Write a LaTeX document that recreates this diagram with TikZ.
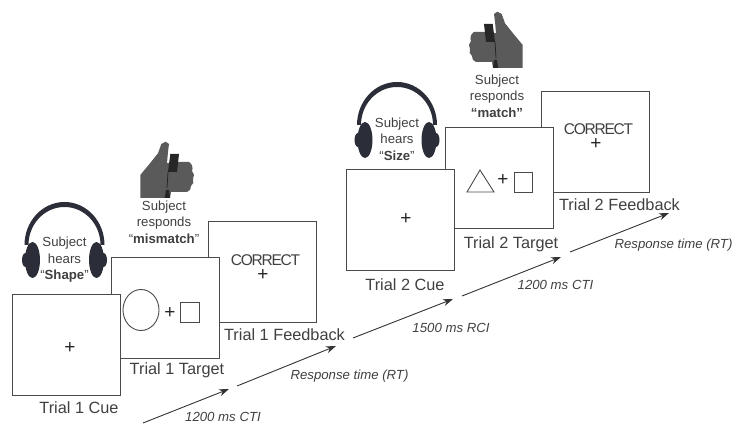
\documentclass[tikz,border=0pt]{standalone}
\usepackage{fontspec}
\usepackage{tikz}
\usepackage{xcolor}
\usetikzlibrary{shapes.geometric,arrows.meta}
\setmainfont{Liberation Sans}
\definecolor{inkgray}{HTML}{404040}
\definecolor{framegray}{HTML}{4A4A4A}
\definecolor{padnavy}{HTML}{2B2E38}
\definecolor{handgray}{HTML}{5A5A5A}

\begin{document}
\begin{tikzpicture}[x=1pt,y=1pt,
        trialbox/.style={rectangle,draw=framegray,fill=white,line width=0.9pt,
      minimum width=108pt,minimum height=101pt,inner sep=0pt},
        triallabel/.style={text=inkgray,inner sep=0pt,font=\fontsize{16.3}{18}\selectfont},
        saying/.style={text=inkgray,inner sep=0pt,align=center,font=\fontsize{13.2}{16.5}\selectfont},
        timing/.style={text=inkgray,inner sep=0pt,font=\fontsize{13.2}{15}\selectfont\itshape},
        fixation/.style={text=black!85,inner sep=0pt,font=\fontsize{19}{20}\selectfont},
        praise/.style={text=inkgray,inner sep=0pt,font=\fontsize{15.5}{17}\selectfont\addfontfeature{LetterSpace=-8}},
        probe/.style={draw=framegray,line width=0.9pt,inner sep=0pt},
        timeline/.style={line width=0.9pt,black!80,-{Stealth[length=10pt,width=7pt]}},
        pics/headset/.style={code={
            \fill [padnavy] (-40,15) arc [start angle=180,end angle=0,x radius=40,y radius=43]
                -- (36,15) arc [start angle=0,end angle=180,x radius=36,y radius=38] -- cycle;
            \fill [padnavy] (-32,0) ellipse [x radius=7.5,y radius=18];
            \fill [padnavy] (32,0) ellipse [x radius=7.5,y radius=18];
            \fill [padnavy] (-39,0) ellipse [x radius=3.5,y radius=7];
            \fill [padnavy] (39,0) ellipse [x radius=3.5,y radius=7];
        }},
        pics/thumbhand/.style={code={
            \fill [handgray] (52.7,0) -- (52.7,23) -- (43,34.7) -- (35,44.7) -- (31.7,54)
                -- (27.3,56.3) -- (24,54) -- (25,46.3) -- (26,34.7) -- (16,36) -- (4,36)
                to [bend right=40] (1,27) to [bend right=40] (0,19)
                to [bend right=40] (2,12) to [bend right=40] (6,6) -- (22,6) -- (23,0) -- cycle;
            \fill [black!85] (14,44) -- (22.7,44) -- (25,26) -- (16,26) -- cycle;
            \draw [black!85,line width=0.8pt] (25,26) -- (26,10);
            \fill [black!85] (24,8) -- (27,8) -- (28.3,0) -- (23,0) -- cycle;
        }}]

        \useasboundingbox (0,0) rectangle (735,423);

        \node [trialbox] (f1) at (262.0, 151.0)         {};
        \node [trialbox] (t1) at (165.0, 115.5)         {};
        \node [trialbox] (c1) at (66.0, 78.5)           {};
        \node [trialbox] (f2) at (595.0, 281.0)         {};
        \node [trialbox] (t2) at (499.0, 245.5)         {};
        \node [trialbox] (c2) at (400.5, 203.5)         {};

        \node [triallabel] (c1label) at (79.0, 15.0)    {Trial 1 Cue};
        \node [triallabel] (t1label) at (177.0, 53.0)   {Trial 1 Target};
        \node [triallabel] (f1label) at (284.5, 88.0)   {Trial 1 Feedback};
        \node [triallabel] (c2label) at (405.0, 138.0)  {Trial 2 Cue};
        \node [triallabel] (t2label) at (511.0, 179.0)  {Trial 2 Target};
        \node [triallabel] (f2label) at (619.5, 218.0)  {Trial 2 Feedback};

        \node [fixation] (c1plus) at (70.0, 75.0)       {+};
        \node [fixation] (t1plus) at (170.0, 110.0)     {+};
        \node [fixation] (f1plus) at (263.0, 148.0)     {+};
        \node [fixation] (c2plus) at (406.0, 204.0)     {+};
        \node [fixation] (t2plus) at (503.0, 243.0)     {+};
        \node [fixation] (f2plus) at (596.0, 279.0)     {+};

        \node [praise] (f1word) at (265.5, 163.0)       {CORRECT};
        \node [praise] (f2word) at (598.5, 294.0)       {CORRECT};

        \node [probe,ellipse,minimum width=36pt,minimum height=41pt] (t1circle) at (141.0, 113.0) {};
        \node [probe,rectangle,minimum width=19pt,minimum height=20pt] (t1square) at (189.5, 111.0) {};
        \node [probe,rectangle,minimum width=18pt,minimum height=20pt] (t2square) at (523.0, 241.0) {};
        \draw [framegray,line width=0.9pt] (467,231) -- (480,253) -- (494,231) -- cycle;

        \pic at (64.5, 163.0) {headset};
        \pic at (397.0, 283.0) {headset};
        \pic [xscale=-1] at (193.0, 225.0) {thumbhand};
        \pic at (470.0, 355.0) {thumbhand};

        \node [saying] (c1say) at (64.5, 163.0)  {Subject\\hears\\“\textbf{Shape}”};
        \node [saying] (c2say) at (397.0, 284.0) {Subject\\hears\\“\textbf{Size}”};
        \node [saying] (t1say) at (164.0, 201.0) {Subject\\responds\\“\textbf{mismatch}”};
        \node [saying] (t2say) at (497.0, 327.0) {Subject\\responds\\\textbf{“match”}};

        \coordinate (s1) at (143, 0);
        \coordinate (e1) at (229, 34);
        \coordinate (s2) at (237, 37);
        \coordinate (e2) at (336, 77);
        \coordinate (s3) at (353, 85);
        \coordinate (e3) at (453, 124);
        \coordinate (s4) at (462, 127);
        \coordinate (e4) at (561, 166);
        \coordinate (s5) at (570, 171);
        \coordinate (e5) at (669, 210);

        \path [timeline] (s1) edge (e1);
        \path [timeline] (s2) edge (e2);
        \path [timeline] (s3) edge (e3);
        \path [timeline] (s4) edge (e4);
        \path [timeline] (s5) edge (e5);

        \node [timing] (a1label) at (223.0, 6.0)   {1200 ms CTI};
        \node [timing] (a2label) at (349.5, 47.0)  {Response time (RT)};
        \node [timing] (a3label) at (451.0, 95.0)  {1500 ms RCI};
        \node [timing] (a4label) at (555.5, 138.0) {1200 ms CTI};
        \node [timing] (a5label) at (673.5, 178.0) {Response time (RT)};
\end{tikzpicture}
\end{document}
